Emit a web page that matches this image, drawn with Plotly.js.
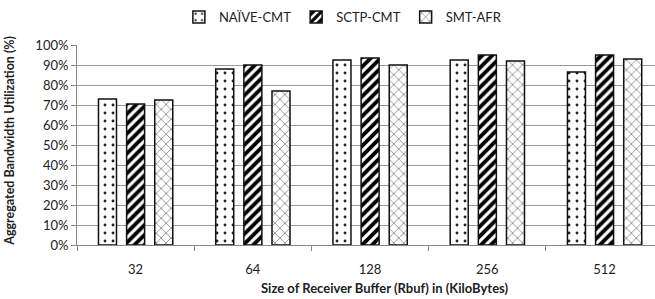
<!DOCTYPE html>
<html><head><meta charset="utf-8">
<script src="https://cdn.plot.ly/plotly-3.0.1.min.js"></script>
<style>html,body{margin:0;padding:0;background:#fff}</style>
</head><body><div id="chart" style="width:655px;height:299px"></div>
<script>
const categories = ['32', '64', '128', '256', '512'];
const naiveCMT = [73, 88, 92.5, 92.5, 86.5];
const sctpCMT = [70.5, 90, 93.5, 95, 95];
const smtAFR = [72.5, 77, 90, 92, 93];
const seriesNames = ['NAÏVE-CMT', 'SCTP-CMT', 'SMT-AFR'];
const yTicks = [0, 10, 20, 30, 40, 50, 60, 70, 80, 90, 100];

const font = 'Lato, "Open Sans", sans-serif';
const line = {color: '#111', width: 1.5};
const traces = [
  {type: 'bar', name: seriesNames[0], x: categories, y: naiveCMT,
   marker: {color: '#fff', line: line, pattern: {shape: '.', fgcolor: '#222', bgcolor: '#fff', size: 8, solidity: 0.1}}},
  {type: 'bar', name: seriesNames[1], x: categories, y: sctpCMT,
   marker: {color: '#fff', line: line, pattern: {shape: '/', fgcolor: '#000', bgcolor: '#fff', size: 7, solidity: 0.55}}},
  {type: 'bar', name: seriesNames[2], x: categories, y: smtAFR,
   marker: {color: '#fff', line: line, pattern: {shape: 'x', fgcolor: '#666', bgcolor: '#fff', size: 7, solidity: 0.18}}}
];

const layout = {
  width: 655, height: 299,
  margin: {l: 77, r: 0, t: 45, b: 54},
  paper_bgcolor: '#fff', plot_bgcolor: '#fff',
  barmode: 'group', bargap: 0.28, bargroupgap: 0.36,
  font: {family: font, size: 13, color: '#222'},
  showlegend: true,
  legend: {orientation: 'h', x: 0.46, xanchor: 'center', y: 1.14, yanchor: 'middle',
           font: {family: font, size: 13, color: '#222'}, itemwidth: 30, tracegroupgap: 0},
  xaxis: {type: 'category', range: [-0.5, 4.43], showgrid: false, showline: true,
          linecolor: '#888', linewidth: 1, ticks: 'outside', tickson: 'boundaries',
          ticklen: 5, tickcolor: '#888', ticklabelstandoff: 12,
          tickfont: {family: font, size: 13, color: '#222'}},
  yaxis: {range: [0, 100], tickvals: yTicks, ticktext: yTicks.map(v => v + '%'),
          showgrid: true, gridcolor: '#999', gridwidth: 1, showline: true,
          linecolor: '#888', ticks: 'outside', ticklen: 5, tickcolor: '#888',
          zeroline: false, tickfont: {family: font, size: 13, color: '#222'}},
  annotations: [
    {text: '<b>Size of Receiver Buffer (Rbuf) in (KiloBytes)</b>', xref: 'paper', yref: 'paper',
     x: (385 - 77) / 578, y: -0.215, xanchor: 'center', yanchor: 'middle', showarrow: false,
     font: {family: font, size: 13, color: '#222'}},
    {text: '<b>Aggregated Bandwidth Utilization (%)</b>', xref: 'paper', yref: 'paper',
     x: -0.118, y: 0.52, xanchor: 'center', yanchor: 'middle', textangle: -90, showarrow: false,
     font: {family: font, size: 12.5, color: '#222'}}
  ]
};
Plotly.newPlot('chart', traces, layout, {displayModeBar: false, staticPlot: true});
</script></body></html>
